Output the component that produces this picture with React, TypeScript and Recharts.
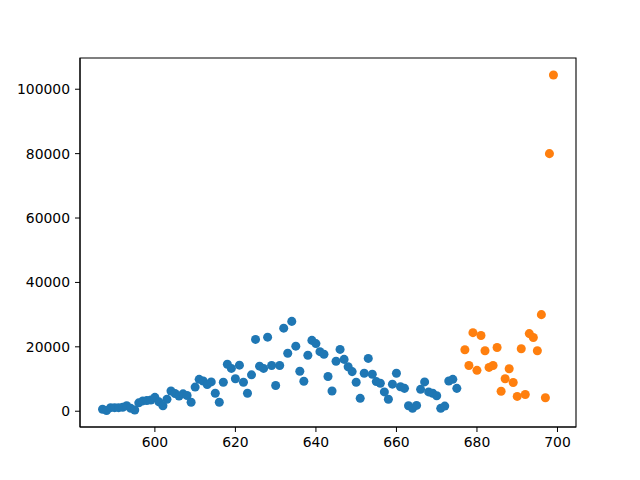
import React from 'react';
import { ScatterChart, Scatter, XAxis, YAxis, ZAxis, ReferenceArea } from 'recharts';

const blueStart = 587;
const blueValues = [
  600, 200, 1100, 1100, 1100, 1200, 1700, 900, 400, 2600,
  3200, 3300, 3500, 4300, 2900, 1700, 3700, 6300, 5500, 4700,
  5400, 4900, 2800, 7500, 9900, 9400, 8300, 9100, 5600, 2800,
  9000, 14600, 13300, 10100, 14300, 9000, 5600, 11300, 22300, 14000,
  13300, 23000, 14200, 8000, 14200, 25800, 18000, 27900, 20200, 12400,
  9300, 17400, 22000, 21000, 18500, 17700, 10800, 6300, 15500, 19200,
  16100, 13800, 12300, 9000, 4000, 11800, 16400, 11500, 9200, 8700,
  6000, 3700, 8400, 11800, 7600, 7100, 1700, 900, 1800, 6800,
  9100, 6000, 5600, 4800, 900, 1600, 9400, 9900, 7100,
];
const orangeStart = 677;
const orangeValues = [
  19100, 14200, 24400, 12700, 23500, 18800, 13600, 14200, 19800, 6200,
  10100, 13200, 8900, 4600, 19400, 5200, 24100, 22900, 18800, 30000,
  4200, 80000, 104400,
];
const xTicks = [600, 620, 640, 660, 680, 700];
const yTicks = [0, 20000, 40000, 60000, 80000, 100000];
const xDomain: [number, number] = [581.4, 704.6];
const yDomain: [number, number] = [-4900, 109700];

const blueData = blueValues.map((v, i) => ({ x: blueStart + i, y: v }));
const orangeData = orangeValues.map((v, i) => ({ x: orangeStart + i, y: v }));

const tickStyle = { fill: '#000', fontSize: 13.9, fontFamily: 'DejaVu Sans' };

export default function App() {
  return (
    <div style={{ position: 'absolute', left: 0, top: 0, width: 640, height: 480, background: '#fff' }}>
      <ScatterChart
        width={640}
        height={480}
        margin={{ top: 58, right: 64, bottom: 23, left: 5 }}
      >
        <XAxis
          type="number"
          dataKey="x"
          domain={xDomain}
          ticks={xTicks}
          allowDataOverflow
          height={30}
          stroke="#000"
          tickSize={5}
          tickMargin={5}
          tick={tickStyle}
          tickLine={{ stroke: '#000' }}
          axisLine={{ stroke: '#000' }}
        />
        <YAxis
          type="number"
          dataKey="y"
          domain={yDomain}
          ticks={yTicks}
          allowDataOverflow
          width={75}
          stroke="#000"
          tickSize={5}
          tickMargin={5}
          tick={tickStyle}
          tickLine={{ stroke: '#000' }}
          axisLine={{ stroke: '#000' }}
        />
        <ZAxis range={[72, 72]} />
        <ReferenceArea
          x1={xDomain[0]}
          x2={xDomain[1]}
          y1={yDomain[0]}
          y2={yDomain[1]}
          fill="none"
          fillOpacity={0}
          stroke="#000"
          strokeWidth={1.1}
          ifOverflow="visible"
        />
        <Scatter data={blueData} fill="#1f77b4" isAnimationActive={false} />
        <Scatter data={orangeData} fill="#ff7f0e" isAnimationActive={false} />
      </ScatterChart>
    </div>
  );
}
